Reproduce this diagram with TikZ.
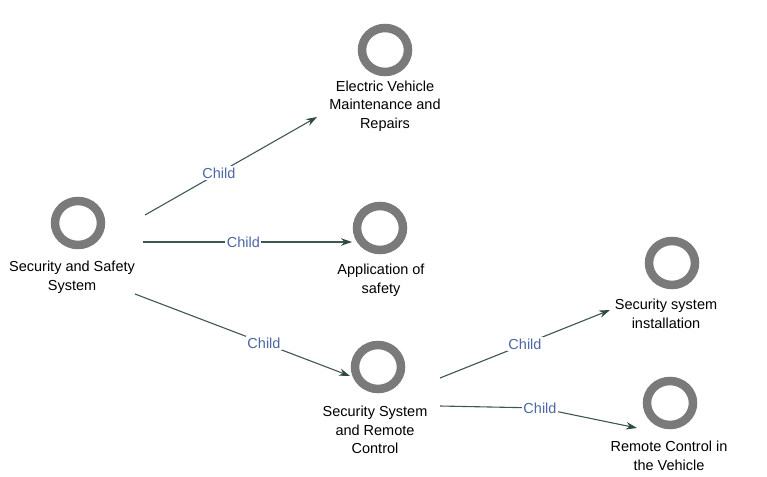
\documentclass[tikz,border=0pt]{standalone}
\usepackage{fontspec}
\setmainfont{Liberation Sans}
\usetikzlibrary{arrows.meta,shapes.geometric}
\definecolor{ringgray}{HTML}{7A7A7A}
\definecolor{edgecol}{HTML}{3E5753}
\definecolor{tipcol}{HTML}{2F4A44}
\definecolor{childblue}{HTML}{4B67A6}
\begin{document}
\begin{tikzpicture}[x=1pt,y=-1pt,
  ring/.style={draw=ringgray, line width=8.5pt, ellipse, minimum width=46pt, minimum height=44pt, inner sep=0pt},
  lbl/.style={align=center, font=\fontsize{14.5}{18.5}\selectfont, text=black, inner sep=0pt},
  conn/.style={draw=edgecol, line width=1.1pt, -{Stealth[length=11pt,width=7.5pt,color=tipcol]}},
  childlbl/.style={fill=white, text=childblue, font=\fontsize{14.5}{17}\selectfont, inner sep=1.5pt}
]
\useasboundingbox (0,0) rectangle (767,476);
% nodes
\node[ring] (A) at (78,223) {};
\node[lbl] (A-t) at (72,277) {Security and Safety\\System};
\node[ring] (B) at (385,50) {};
\node[lbl] (B-t) at (385,106) {Electric Vehicle\\Maintenance and\\Repairs};
\node[ring] (C) at (380,228) {};
\node[lbl] (C-t) at (381,280) {Application of\\safety};
\node[ring] (D) at (378,367) {};
\node[lbl] (D-t) at (375,430) {Security System\\and Remote\\Control};
\node[ring] (E) at (672,263) {};
\node[lbl] (E-t) at (666,314) {Security system\\installation};
\node[ring] (F) at (670,403) {};
\node[lbl] (F-t) at (669,456) {Remote Control in\\the Vehicle};
% connectors
\draw[conn] ([shift={(67,-8)}]A.center) -- node[childlbl,pos=0.43]{Child} ([shift={(-68,67)}]B.center);
\draw[conn] ([shift={(65,19)}]A.center) -- node[childlbl,pos=0.48]{Child} ([shift={(-28,14)}]C.center);
\draw[conn] ([shift={(57,71)}]A.center) -- node[childlbl,pos=0.6]{Child} ([shift={(-28,9)}]D.center);
\draw[conn] ([shift={(62,11)}]D.center) -- node[childlbl,pos=0.5]{Child} ([shift={(-62,47)}]E.center);
\draw[conn] ([shift={(62,39)}]D.center) -- ([shift={(162,41)}]D.center) node[childlbl]{Child} -- ([shift={(-33,25)}]F.center);
\end{tikzpicture}
\end{document}
